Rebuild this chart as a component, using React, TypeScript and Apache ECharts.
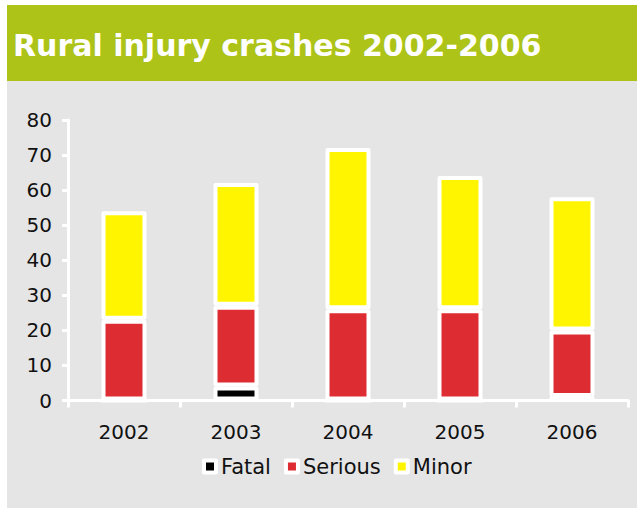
import React, { useEffect, useRef } from "react";
import * as echarts from "echarts";

const categories = ["2002", "2003", "2004", "2005", "2006"];
const fatal = [0, 4, 0, 0, 1];
const serious = [23, 23, 26, 26, 19];
const minor = [31, 35, 46, 38, 38];
const yTicks = { min: 0, max: 80, interval: 10 };

const FONT = "DejaVu Sans";

export default function App() {
  const ref = useRef<HTMLDivElement>(null);
  useEffect(() => {
    if (!ref.current) return;
    const chart = echarts.init(ref.current, null, { renderer: "svg" });
    const itemStyleBase = { borderColor: "#ffffff", borderWidth: 4, borderJoin: "round" };
    chart.setOption({
      animation: false,
      backgroundColor: "#ffffff",
      textStyle: { fontFamily: FONT },
      graphic: [
        { type: "rect", shape: { x: 7, y: 5, width: 630, height: 76 }, style: { fill: "#ADC318" }, z: -10 },
        { type: "rect", shape: { x: 7, y: 81, width: 630, height: 427 }, style: { fill: "#E5E5E5" }, z: -10 },
        {
          type: "text",
          x: 13,
          y: 45,
          style: {
            text: "Rural injury crashes 2002-2006",
            fill: "#ffffff",
            font: `bold 30px "${FONT}"`,
            textVerticalAlign: "middle",
          },
          z: 10,
        },
      ],
      grid: { left: 68, right: 9, top: 120, bottom: 108.5, containLabel: false },
      legend: {
        left: 197,
        top: 451,
        itemWidth: 12,
        itemHeight: 12,
        itemGap: 13,
        icon: "rect",
        itemStyle: { borderColor: "#ffffff", borderWidth: 4 },
        textStyle: { fontFamily: FONT, fontSize: 21, color: "#111111" },
        data: ["Fatal", "Serious", "Minor"],
      },
      xAxis: {
        type: "category",
        data: categories,
        z: 5,
        axisLine: { lineStyle: { color: "#ffffff", width: 3 } },
        axisTick: { show: true, length: 7, lineStyle: { color: "#ffffff", width: 3 } },
        axisLabel: { color: "#111111", fontSize: 20, fontFamily: FONT, margin: 21 },
        splitLine: { show: false },
      },
      yAxis: {
        type: "value",
        min: yTicks.min,
        max: yTicks.max,
        interval: yTicks.interval,
        axisLine: { show: true, lineStyle: { color: "#ffffff", width: 3 } },
        axisTick: { show: true, length: 6, lineStyle: { color: "#ffffff", width: 3 } },
        axisLabel: { color: "#111111", fontSize: 20, fontFamily: FONT, margin: 16 },
        splitLine: { show: false },
      },
      series: [
        { name: "Fatal", type: "bar", stack: "a", barWidth: 45, data: fatal, itemStyle: { ...itemStyleBase, color: "#000000" } },
        { name: "Serious", type: "bar", stack: "a", barWidth: 45, data: serious, itemStyle: { ...itemStyleBase, color: "#DE2C33" } },
        { name: "Minor", type: "bar", stack: "a", barWidth: 45, data: minor, itemStyle: { ...itemStyleBase, color: "#FFF500" } },
      ],
    });
    return () => chart.dispose();
  }, []);
  return <div ref={ref} style={{ position: "fixed", left: 0, top: 0, width: 637, height: 509 }} />;
}
